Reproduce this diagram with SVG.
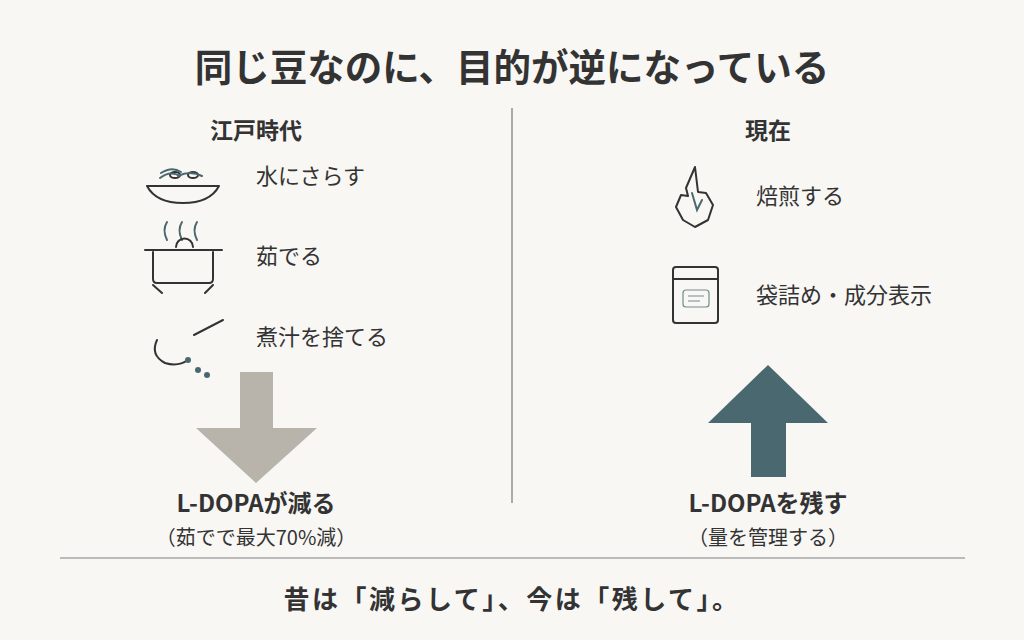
<svg xmlns="http://www.w3.org/2000/svg" width="1024" height="640" viewBox="0 0 1024 640">
<style>
text{font-family:"Noto Sans CJK JP","Noto Sans",sans-serif;fill:#333}
.t{font-size:37.5px;font-weight:bold}
.h{font-size:23px;font-weight:bold}
.h2{font-size:24px;font-weight:bold}
.l{font-size:22px}
.s{font-size:20px}
.f{font-size:26px;font-weight:bold;letter-spacing:2.5px}
.ic{fill:none;stroke:#333;stroke-width:2;stroke-linecap:round;stroke-linejoin:round}
.tl{fill:none;stroke:#4a6870;stroke-width:2;stroke-linecap:round}
</style>
<rect width="1024" height="640" fill="#f8f7f3"/>
<text class="t" x="512" y="81" text-anchor="middle">同じ豆なのに、目的が逆になっている</text>
<g id="connectors">
<line x1="512" y1="108" x2="512" y2="503" stroke="#aaa" stroke-width="2"/>
<line x1="60" y1="558" x2="965" y2="558" stroke="#bbb" stroke-width="2"/>
</g>
<g id="edo">
<text class="h" x="256" y="139" text-anchor="middle">江戸時代</text>
<g id="soak"><path class="ic" d="M147 186H219Q210 203 183 203Q156 203 147 186Z"/>
<ellipse class="ic" cx="175" cy="175" rx="5" ry="3"/><ellipse class="ic" cx="193" cy="175" rx="5" ry="3"/>
<path class="tl" d="M160 178Q170 170 180 176M178 176Q190 170 202 176M161 173Q172 166 181 172"/>
<text class="l" x="256" y="184">水にさらす</text></g>
<g id="boil"><path class="tl" d="M167 222Q162 230 167 240M182 222Q177 230 182 240M197 222Q192 230 197 240"/>
<path class="ic" d="M176 247A8 8 0 0 1 193 247M145 250H222M153 252V279Q153 283 157 283H209Q213 283 213 279V252M153 285L162 293M213 285L205 293"/>
<text class="l" x="256" y="264">茹でる</text></g>
<g id="drain"><path class="ic" d="M194 335L223 320M157 340Q150 355 165 363Q178 367 188 360"/>
<circle cx="188" cy="360" r="3" fill="#4a6870"/><circle cx="198" cy="370" r="3" fill="#4a6870"/><circle cx="207" cy="375" r="3" fill="#4a6870"/>
<text class="l" x="256" y="345">煮汁を捨てる</text></g>
<path d="M240 372H273V428H317L256 483L196 428H240Z" fill="#b8b4ab"/>
<text class="h2" x="256" y="512" text-anchor="middle">L-DOPAが減る</text>
<text class="s" x="256" y="545" text-anchor="middle">（茹でで最大70%減）</text>
</g>
<g id="now">
<text class="h" x="768" y="139" text-anchor="middle">現在</text>
<g id="roast"><path class="ic" stroke-width="3" d="M695 167L698 192L706 193L713 205L708 220L695 227L683 220L676 207L681 195L688 196L686 188Z"/>
<path class="tl" stroke-width="3" d="M692 193L697 210L702 200"/>
<text class="l" x="756" y="204">焙煎する</text></g>
<g id="pack"><rect class="ic" x="673" y="267" width="45" height="56" rx="3"/><line class="ic" x1="673" y1="279" x2="718" y2="279" stroke-width="1.2"/>
<rect x="683" y="290" width="26" height="17" rx="3" fill="none" stroke="#6f8c92" stroke-width="1.2"/>
<path d="M688 296H704M688 301H700" stroke="#6f8c92" stroke-width="1.2"/>
<text class="l" x="756" y="303">袋詰め・成分表示</text></g>
<path d="M768 365L828 423H786V477H751V423H708Z" fill="#4a6870"/>
<text class="h2" x="768" y="512" text-anchor="middle">L-DOPAを残す</text>
<text class="s" x="768" y="545" text-anchor="middle">（量を管理する）</text>
</g>
<text class="f" x="512" y="609" text-anchor="middle">昔は「減らして」、今は「残して」。</text>
</svg>
